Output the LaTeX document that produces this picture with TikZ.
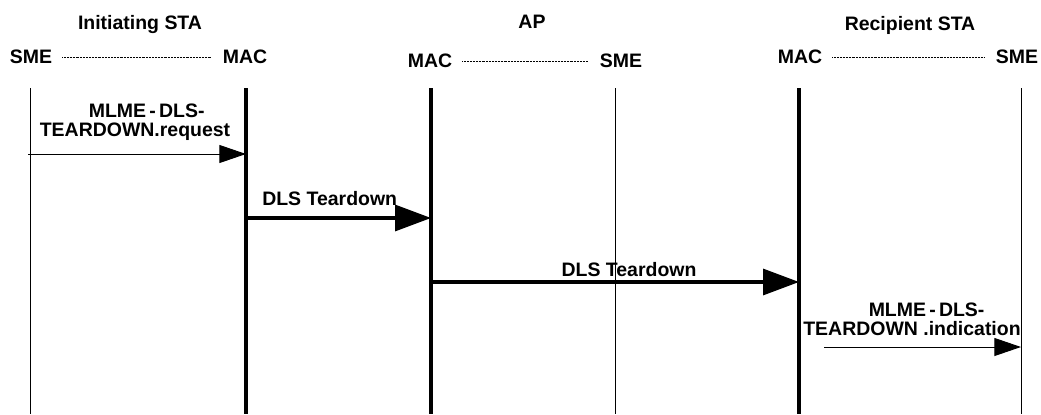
\documentclass[tikz,border=0pt]{standalone}
\usepackage{fontspec}
\setmainfont{Liberation Sans}
\usetikzlibrary{arrows.meta,positioning}

\begin{document}
\begin{tikzpicture}[
  x=0.75pt, y=-0.75pt,
  font=\fontsize{14.6pt}{14pt}\selectfont\bfseries,
  lbl/.style={inner sep=0pt, text depth=0pt},
  msglbl/.style={inner sep=0pt, align=center},
  peer/.style={dash pattern=on 0.6pt off 0.5pt, line width=0.7pt,
               shorten <=7.5pt, shorten >=9pt},
  thinlife/.style={line width=0.75pt},
  thicklife/.style={line width=2.4pt},
  primarr/.style={line width=0.75pt, -{Triangle[length=20pt, width=13.5pt]}},
  msgarr/.style={line width=2.4pt, -{Triangle[length=27pt, width=19.5pt]}},
]
\useasboundingbox (0,0) rectangle (1041,414);

%% --- Station headers ---
\node[lbl] (ista) at (140,22)  {Initiating STA};
\node[lbl] (ap)   at (532,22)  {AP};
\node[lbl] (rsta) at (910,23)  {Recipient STA};

\node[lbl] (sme1) at (31,57)   {SME};
\node[lbl] (mac1) at (245,57)  {MAC};
\node[lbl] (mac2) at (430,61)  {MAC};
\node[lbl] (sme2) at (621,61)  {SME};
\node[lbl] (mac3) at (800,57)  {MAC};
\node[lbl] (sme3) at (1017,57) {SME};

\draw[peer] (sme1) -- (mac1);
\draw[peer] (mac2) -- (sme2);
\draw[peer] (mac3) -- (sme3);

%% --- Lifelines ---
\foreach \n/\x/\w in {sme1/30/thinlife, mac1/246/thicklife, mac2/431/thicklife,
                      sme2/615/thinlife, mac3/799/thicklife, sme3/1021/thinlife}{
  \coordinate (\n-top) at (\x,88);
  \coordinate (\n-bot) at (\x,414);
  \draw[\w] (\n-top) -- (\n-bot);
}

%% --- Message levels ---
\coordinate (y-req) at (0,154);
\coordinate (y-td1) at (0,218);
\coordinate (y-td2) at (0,282);
\coordinate (y-ind) at (0,347);
\coordinate (req-start) at (28,154);
\coordinate (ind-start) at (824,347);

%% --- Messages ---
\draw[primarr] (req-start) -- (mac1-top |- y-req);
\draw[msgarr]  (mac1-top |- y-td1) -- (mac2-top |- y-td1);
\draw[msgarr]  (mac2-top |- y-td2) -- (mac3-top |- y-td2);
\draw[primarr] (ind-start) -- (sme3-top |- y-ind);

%% --- Message labels ---
\node[msglbl] (req-lbl) at (135,122)
      {\hspace*{1.2em}MLME\,-\,DLS-\\TEARDOWN.request};
\node[lbl, anchor=west] (td1-lbl) at (262,198) {DLS Teardown};
\node[lbl] (td2-lbl) at (629,269) {DLS Teardown};
\node[msglbl] (ind-lbl) at (912,319)
      {\hspace*{1.5em}MLME\,-\,DLS-\\TEARDOWN .indication};

\end{tikzpicture}
\end{document}
